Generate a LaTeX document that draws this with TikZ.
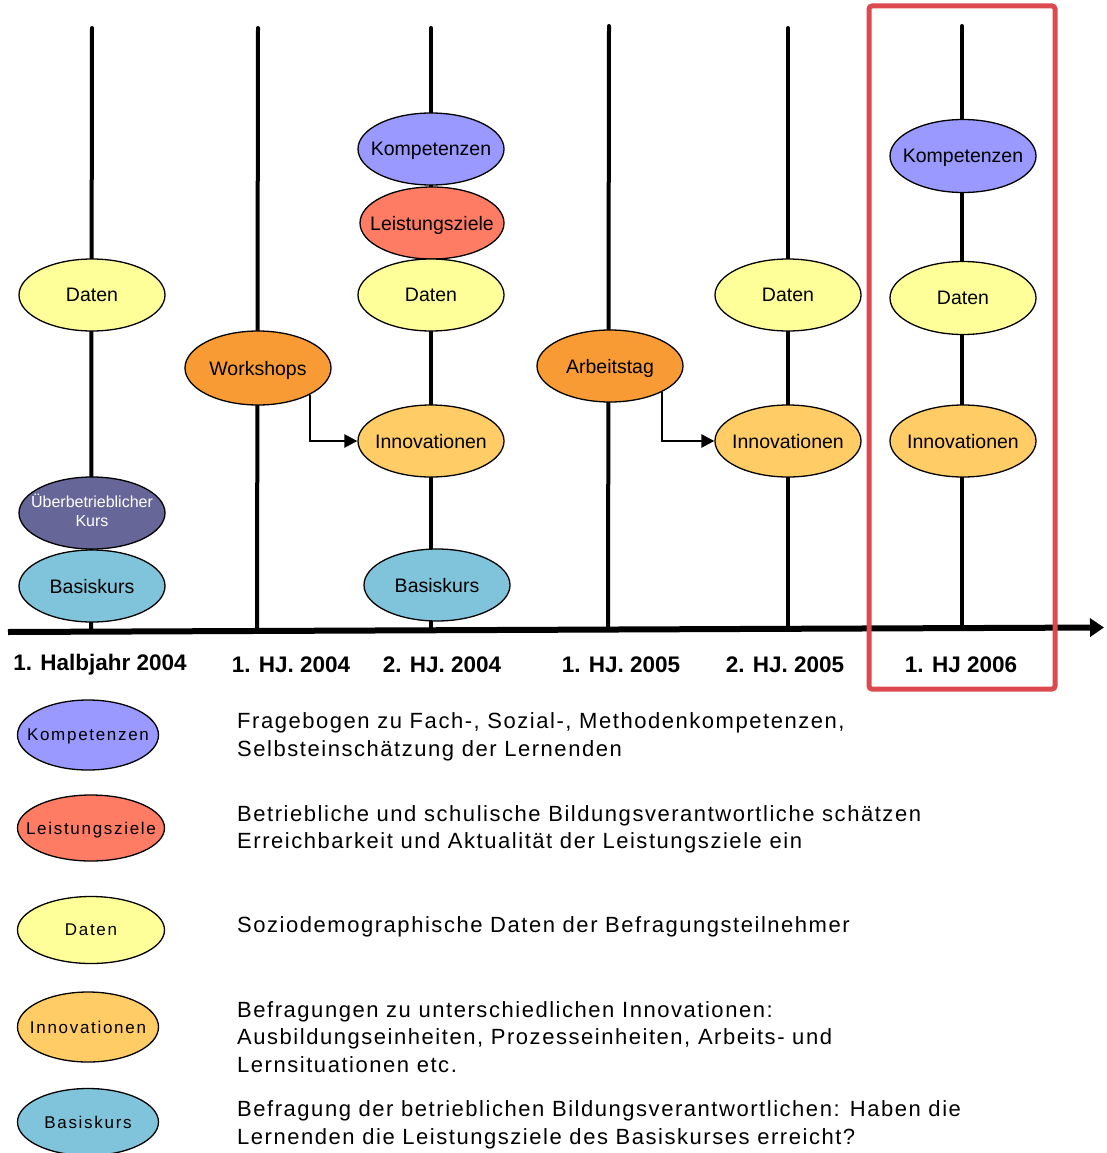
\documentclass[tikz,border=0pt]{standalone}
\usepackage{fontspec}
\setmainfont{Liberation Sans}
\newfontfamily\spacedfont[LetterSpace=10]{Liberation Sans}
\newfontfamily\descfont[LetterSpace=7]{Liberation Sans}
\usetikzlibrary{arrows.meta,shapes.geometric}
\newcommand\lbl[1]{\makebox[0pt][c]{#1}}
\definecolor{komp}{HTML}{9999FF}
\definecolor{leist}{HTML}{FF7C64}
\definecolor{daten}{HTML}{FFFF99}
\definecolor{innov}{HTML}{FFCC66}
\definecolor{basis}{HTML}{7FC4DA}
\definecolor{ueber}{HTML}{666699}
\definecolor{orng}{HTML}{F99B34}
\definecolor{framered}{HTML}{DC4A50}
\tikzset{
  evbase/.style={ellipse, draw=black, line width=1.3pt, minimum width=146pt, minimum height=72pt, inner sep=0pt, font=\fontsize{19.5}{22}\selectfont},
  ev/.style={evbase, text depth=0pt},
  lg/.style={ellipse, draw=black, line width=1.3pt, inner sep=0pt, text depth=0pt, font=\spacedfont\fontsize{17}{20}\selectfont},
  desc/.style={anchor=west, align=left, inner sep=0pt, font=\descfont\fontsize{22}{27.5}\selectfont},
  axlabel/.style={inner sep=0pt, font=\bfseries\fontsize{22.5}{26}\selectfont},
  vline/.style={line width=4pt, line cap=round},
  axisline/.style={line width=6pt, -{Triangle[length=14pt,width=18pt]}},
  flow/.style={line width=2.5pt, -{Triangle[length=13pt,width=13pt]}},
}
\begin{document}
\begin{tikzpicture}[x=1pt,y=-1pt]
\useasboundingbox (0,0) rectangle (1106,1153);
% axis
\coordinate (ax0) at (8,632);
\coordinate (ax1) at (1104,627.5);
\draw[axisline] (ax0) -- (ax1);
% vertical lines
\coordinate (t1) at (92,28);  \coordinate (b1) at (91,631.5);
\coordinate (t2) at (258,28); \coordinate (b2) at (257,631);
\coordinate (t3) at (431,28); \coordinate (b3) at (431,630.5);
\coordinate (t4) at (609,26); \coordinate (b4) at (608,629.8);
\coordinate (t5) at (788,28); \coordinate (b5) at (788,629.2);
\coordinate (t6) at (962,26); \coordinate (b6) at (962,628.5);
\foreach \i in {1,...,6} \draw[vline] (t\i) -- (b\i);
% timeline ellipses
\node[ev, fill=daten] (d1) at (92,295) {\lbl{Daten}};
\node[evbase, fill=ueber, text=white, font=\fontsize{16}{19}\selectfont] (ue1) at (92,513) {\lbl{\raisebox{-3pt}{\begin{tabular}{@{}c@{}}Überbetrieblicher\\Kurs\end{tabular}}}};
\node[ev, fill=basis] (bk1) at (92,586) {\lbl{Basiskurs}};
\node[ev, fill=orng, minimum height=74pt] (ws) at (258,368) {\lbl{Workshops}};
\node[ev, fill=komp] (k3) at (431,149) {\lbl{Kompetenzen}};
\node[ev, fill=leist, minimum width=144pt] (l3) at (432,223) {\lbl{Leistungsziele}};
\node[ev, fill=daten] (d3) at (431,295) {\lbl{Daten}};
\node[ev, fill=innov] (i3) at (431,441) {\lbl{Innovationen}};
\node[ev, fill=basis] (bk3) at (437,585) {\lbl{Basiskurs}};
\node[ev, fill=orng] (at) at (610,366) {\lbl{Arbeitstag}};
\node[ev, fill=daten] (d5) at (788,295) {\lbl{Daten}};
\node[ev, fill=innov] (i5) at (788,441) {\lbl{Innovationen}};
\node[ev, fill=komp, minimum height=73pt] (k6) at (963,156) {\lbl{Kompetenzen}};
\node[ev, fill=daten, minimum height=73pt] (d6) at (963,298) {\lbl{Daten}};
\node[ev, fill=innov] (i6) at (963,441) {\lbl{Innovationen}};
% flow arrows
\draw[flow] (ws.south east) |- (i3.west);
\draw[flow] (at.south east) |- (i5.west);
% axis labels
\node[axlabel] (x1) at (100,665) {1. Halbjahr 2004};
\node[axlabel] (x2) at (291,665) {1. HJ. 2004};
\node[axlabel] (x3) at (442,665) {2. HJ. 2004};
\node[axlabel] (x4) at (621,665) {1. HJ. 2005};
\node[axlabel] (x5) at (785,665) {2. HJ. 2005};
\node[axlabel] (x6) at (961,665) {1. HJ 2006};
% highlight frame
\draw[framered, line width=5pt, rounded corners=3pt] (869,6) rectangle (1055,689);
% legend
\node[lg, fill=komp, minimum width=141pt, minimum height=70pt] (lk) at (88,735) {\lbl{Kompetenzen}};
\node[lg, fill=leist, minimum width=147pt, minimum height=66pt] (ll) at (91,828) {\lbl{Leistungsziele}};
\node[lg, fill=daten, minimum width=147pt, minimum height=67pt] (ld) at (91,930) {\lbl{Daten}};
\node[lg, fill=innov, minimum width=141pt, minimum height=70pt] (li) at (88,1027) {\lbl{Innovationen}};
\node[lg, fill=basis, minimum width=141pt, minimum height=67pt] (lb) at (88,1122) {\lbl{Basiskurs}};
\node[desc] (tk) at (237,737) {Fragebogen zu Fach-, Sozial-, Methodenkompetenzen,\\Selbsteinschätzung der Lernenden};
\node[desc] (tl) at (237,829.5) {Betriebliche und schulische Bildungsverantwortliche schätzen\\Erreichbarkeit und Aktualität der Leistungsziele ein};
\node[desc] (td) at (237,926.5) {Soziodemographische Daten der Befragungsteilnehmer};
\node[desc] (ti) at (237,1037) {Befragungen zu unterschiedlichen Innovationen:\\Ausbildungseinheiten, Prozesseinheiten, Arbeits- und\\Lernsituationen etc.};
\node[desc] (tb) at (237,1125) {Befragung der betrieblichen Bildungsverantwortlichen: Haben die\\Lernenden die Leistungsziele des Basiskurses erreicht?};
\end{tikzpicture}
\end{document}
